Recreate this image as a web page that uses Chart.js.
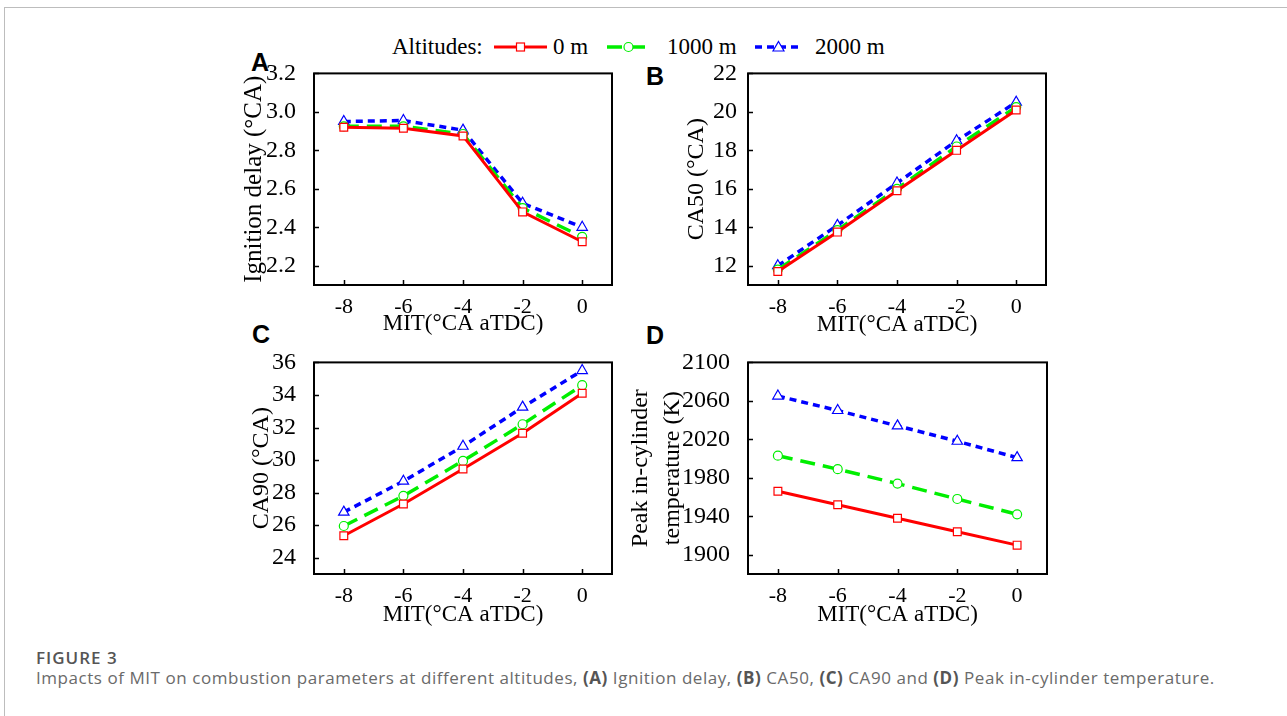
<!DOCTYPE html>
<html>
<head>
<meta charset="utf-8">
<script src="https://cdn.jsdelivr.net/npm/chart.js@4.4.1/dist/chart.umd.min.js"></script>
<style>
  html, body { margin: 0; padding: 0; background: #fff; }
  body { width: 1287px; height: 716px; position: relative; overflow: hidden; }
  #frame { position: absolute; left: 4px; top: 7px; width: 1300px; height: 720px; border-top: 1px solid #bdbdbd; border-left: 1px solid #bdbdbd; }
  .panel { position: absolute; }
  .plabel { position: absolute; font-family: "Liberation Sans", Arial, sans-serif; font-weight: bold; font-size: 25px; line-height: 25px; color: #000; }
  .leg { position: absolute; font-family: "Liberation Serif", "Times New Roman", serif; font-size: 23px; line-height: 28px; color: #000; white-space: nowrap; }
  #figtitle { position: absolute; left: 36px; top: 647px; font-family: "Open Sans", sans-serif; font-weight: 600; font-size: 17px; letter-spacing: 1px; line-height: 22px; color: #555; }
  #caption { position: absolute; left: 36px; top: 666px; font-family: "Open Sans", sans-serif; font-size: 17px; letter-spacing: 0.55px; line-height: 24px; color: #6a6a6a; white-space: nowrap; }
  #caption b { color: #555; font-weight: 700; }
</style>
</head>
<body>
<div id="frame"></div>

<div class="leg" id="legTitle" style="left:392px; top:33px;">Altitudes:</div>
<div id="legend"></div>

<div class="plabel" style="left:251px; top:50px;">A</div>
<div class="plabel" style="left:646px; top:64px;">B</div>
<div class="plabel" style="left:252px; top:322px;">C</div>
<div class="plabel" style="left:646px; top:323px;">D</div>

<canvas class="panel" id="cA"></canvas>
<canvas class="panel" id="cB"></canvas>
<canvas class="panel" id="cC"></canvas>
<canvas class="panel" id="cD"></canvas>

<div id="figtitle">FIGURE 3</div>
<div id="caption">Impacts of MIT on combustion parameters at different altitudes, <b>(A)</b> Ignition delay, <b>(B)</b> CA50, <b>(C)</b> CA90 and <b>(D)</b> Peak in-cylinder temperature.</div>

<script>
// ---------------- DATA ----------------
const mit = [-8, -6, -4, -2, 0];
const altitudes = ['0 m', '1000 m', '2000 m'];

const ignition_0m    = [2.92, 2.915, 2.875, 2.48, 2.325];
const ignition_1000m = [2.925, 2.925, 2.885, 2.50, 2.35];
const ignition_2000m = [2.95, 2.955, 2.905, 2.525, 2.40];

const ca50_0m    = [11.7, 13.75, 15.9, 18.0, 20.1];
const ca50_1000m = [11.8, 13.85, 16.0, 18.2, 20.25];
const ca50_2000m = [12.0, 14.1, 16.3, 18.5, 20.5];

const ca90_0m    = [25.35, 27.3, 29.45, 31.65, 34.1];
const ca90_1000m = [25.95, 27.8, 29.95, 32.2, 34.6];
const ca90_2000m = [26.8, 28.7, 30.85, 33.25, 35.5];

const temp_0m    = [1966, 1952, 1938, 1924, 1910];
const temp_1000m = [2003, 1989, 1974, 1958, 1942];
const temp_2000m = [2065, 2050, 2034, 2018, 2001];

const ticksIgnition = [2.2, 2.4, 2.6, 2.8, 3.0, 3.2];
const ticksCA50 = [12, 14, 16, 18, 20, 22];
const ticksCA90 = [24, 26, 28, 30, 32, 34, 36];
const ticksTemp = [1900, 1940, 1980, 2020, 2060, 2100];

// ---------------- STYLES ----------------
const seriesStyle = [
  { color: '#ff0000', dash: [], width: 3, point: 'rect', radius: 5.5 },
  { color: '#00ee00', dash: [15, 8], width: 3.5, point: 'circle', radius: 4.5 },
  { color: '#0000ff', dash: [7, 5], width: 3.5, point: 'triangle', radius: 6 }
];

const serif = '"Liberation Serif", "Times New Roman", serif';

const framePlugin = {
  id: 'frameTicks',
  afterDraw(chart) {
    const { ctx, chartArea: a, scales } = chart;
    ctx.save();
    ctx.strokeStyle = '#000';
    ctx.lineWidth = 1.5;
    ctx.beginPath();
    scales.x.ticks.forEach(t => {
      const px = Math.round(scales.x.getPixelForValue(t.value)) + 0.5;
      ctx.moveTo(px, a.bottom); ctx.lineTo(px, a.bottom - 5);
    });
    scales.y.ticks.forEach(t => {
      const py = Math.round(scales.y.getPixelForValue(t.value)) + 0.5;
      ctx.moveTo(a.left, py); ctx.lineTo(a.left + 5, py);
    });
    ctx.stroke();
    ctx.lineWidth = 2;
    ctx.strokeRect(a.left, a.top, a.right - a.left, a.bottom - a.top);
    ctx.restore();
  }
};

function makePanel(id, box, series, yCfg) {
  const yW = yCfg.axisWidth, xH = 60, padT = 12, padR = 12;
  const xTitleSize = 23, xTitleLH = 1.2;
  const cv = document.getElementById(id);

  const datasets = () => series.map((vals, i) => {
    const s = seriesStyle[i];
    return {
      label: altitudes[i],
      data: mit.map((x, k) => ({ x: x, y: vals[k] })),
      borderColor: s.color,
      borderWidth: s.width,
      borderDash: s.dash,
      pointStyle: s.point,
      pointRadius: s.radius,
      pointBorderWidth: 1.2,
      pointBorderColor: s.color,
      pointBackgroundColor: '#fff',
      fill: false,
      tension: 0
    };
  });

  const build = (w, h, xPad, yPad) => {
    cv.width = w; cv.height = h; cv.style.width = w + 'px'; cv.style.height = h + 'px';
    return new Chart(cv, {
      type: 'line',
      data: { datasets: datasets() },
      plugins: [framePlugin],
      options: {
        responsive: false,
        animation: false,
        events: [],
        layout: { autoPadding: false, padding: { top: padT, right: padR, left: 0, bottom: 0 } },
        plugins: { legend: { display: false }, tooltip: { enabled: false } },
        scales: {
          x: {
            type: 'linear', min: -9, max: 1,
            afterBuildTicks: s => { s.ticks = mit.map(v => ({ value: v })); },
            afterFit: s => { s.height = xH; },
            grid: { display: false },
            border: { display: false },
            ticks: { color: '#000', font: { family: serif, size: 22 }, padding: 1, callback: v => String(v) },
            title: { display: true, text: 'MIT(°CA aTDC)', color: '#000', font: { family: serif, size: xTitleSize, lineHeight: xTitleLH }, padding: { top: 0, bottom: xPad } }
          },
          y: {
            type: 'linear', min: yCfg.min, max: yCfg.max,
            afterBuildTicks: s => { s.ticks = yCfg.ticks.map(v => ({ value: v })); },
            afterFit: s => { s.width = yW; },
            grid: { display: false },
            border: { display: false },
            ticks: { color: '#000', font: { family: serif, size: 24 }, padding: yCfg.tickPad, callback: yCfg.fmt },
            title: {
              display: true, text: yCfg.title, color: '#000',
              font: { family: serif, size: yCfg.titleSize, lineHeight: yCfg.titleLH },
              padding: { top: yPad, bottom: 0 }
            }
          }
        }
      }
    });
  };

  // pass 1: measure where the library puts the plot area
  const w0 = box.right - box.left + yW + padR + 40, h0 = box.bottom - box.top + xH + padT + 40;
  const probe = build(w0, h0, 0, 10);
  const a = probe.chartArea;
  const gapR = w0 - a.right, gapB = h0 - a.bottom, offL = a.left, offT = a.top;
  probe.destroy();

  // pass 2: size and place the canvas so that the plot area lands on the box
  const left = box.left - offL, top = box.top - offT;
  const w = box.right - left + gapR, h = box.bottom - top + gapB;
  cv.style.left = left + 'px'; cv.style.top = top + 'px';
  const xPad = h - (box.xTitleCenter - top) - xTitleSize * xTitleLH / 2;
  const yPad = (yCfg.titleCenter - left) - yCfg.titleSize * yCfg.titleLH / 2;
  return build(w, h, xPad, yPad);
}

const chA = makePanel('cA', { left: 314, right: 612, top: 73, bottom: 285, xTitleCenter: 324 },
  [ignition_0m, ignition_1000m, ignition_2000m],
  { min: 2.1, max: 3.2, ticks: ticksIgnition, fmt: v => v.toFixed(1), title: 'Ignition delay (°CA)',
    titleSize: 25, titleLH: 1.2, titleCenter: 254, tickPad: 10, axisWidth: 100 });
const chB = makePanel('cB', { left: 748, right: 1046, top: 73, bottom: 285, xTitleCenter: 325 },
  [ca50_0m, ca50_1000m, ca50_2000m],
  { min: 11, max: 22, ticks: ticksCA50, fmt: v => String(v), title: 'CA50 (°CA)',
    titleSize: 24, titleLH: 1.2, titleCenter: 697, tickPad: 3, axisWidth: 100 });
const chC = makePanel('cC', { left: 314, right: 612, top: 362, bottom: 574, xTitleCenter: 615 },
  [ca90_0m, ca90_1000m, ca90_2000m],
  { min: 23, max: 36, ticks: ticksCA90, fmt: v => String(v), title: 'CA90 (°CA)',
    titleSize: 24, titleLH: 1.2, titleCenter: 262, tickPad: 10, axisWidth: 100 });
const chD = makePanel('cD', { left: 748, right: 1047, top: 362, bottom: 574, xTitleCenter: 615 },
  [temp_0m, temp_1000m, temp_2000m],
  { min: 1880, max: 2100, ticks: ticksTemp, fmt: v => String(v), title: ['Peak in-cylinder', 'temperature (K)'],
    titleSize: 24, titleLH: 1.33, titleCenter: 641, tickPad: 10, axisWidth: 140 });

// ---------------- LEGEND (HTML) ----------------
const legPos = [
  { sx: 494, sw: 53, tx: 553 },
  { sx: 607, sw: 43, tx: 667 },
  { sx: 755, sw: 47, tx: 815 }
];
const legend = document.getElementById('legend');
altitudes.forEach((name, i) => {
  const s = seriesStyle[i], p = legPos[i];
  const cy = 14;
  const mid = p.sw / 2;
  let marker = '';
  if (s.point === 'rect') marker = `<rect x="${mid - 4}" y="${cy - 4}" width="8" height="8" fill="#fff" stroke="${s.color}" stroke-width="1.2"/>`;
  else if (s.point === 'circle') marker = `<circle cx="${mid}" cy="${cy}" r="4.5" fill="#fff" stroke="${s.color}" stroke-width="1.2"/>`;
  else marker = `<polygon points="${mid},${cy - 5.5} ${mid + 5.5},${cy + 4} ${mid - 5.5},${cy + 4}" fill="#fff" stroke="${s.color}" stroke-width="1.2"/>`;
  const dash = s.dash.length ? `stroke-dasharray="${s.dash.join(' ')}"` : '';
  const svg = `<svg style="position:absolute;left:${p.sx}px;top:33px" width="${p.sw}" height="28">
    <line x1="0" y1="${cy}" x2="${p.sw}" y2="${cy}" stroke="${s.color}" stroke-width="${s.width}" ${dash}/>${marker}</svg>`;
  legend.insertAdjacentHTML('beforeend', svg + `<div class="leg" style="left:${p.tx}px; top:33px;">${name}</div>`);
});
</script>
</body>
</html>
